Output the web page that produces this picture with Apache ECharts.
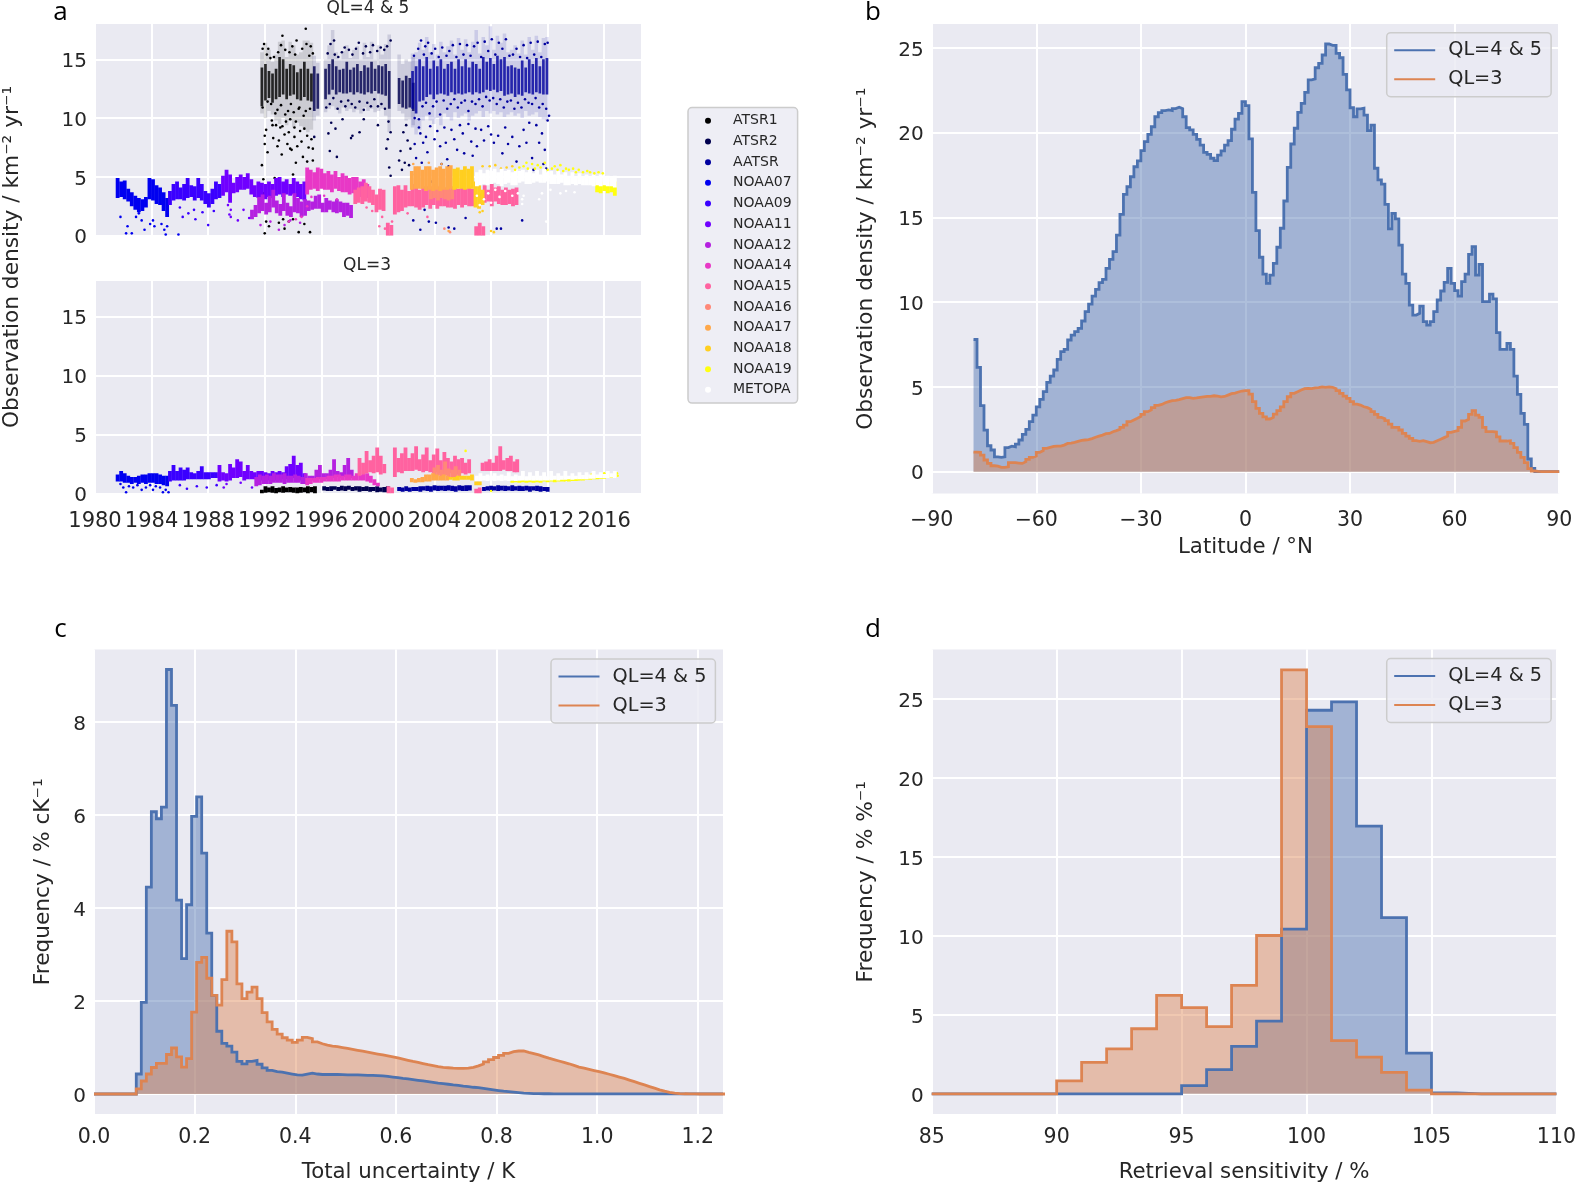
<!DOCTYPE html>
<html><head><meta charset="utf-8">
<style>html,body{margin:0;padding:0;background:#fff}#c{width:1579px;height:1184px}</style>
<script src="https://cdn.jsdelivr.net/npm/echarts@6/dist/echarts.min.js"></script>
</head><body><div id="c"></div>
<script>
const sensors=['ATSR1','ATSR2','AATSR','NOAA07','NOAA09','NOAA11','NOAA12','NOAA14','NOAA15','NOAA16','NOAA17','NOAA18','NOAA19','METOPA'];
const sensorColors=['#000000','#00004f','#00009f','#0000f0','#3a00ff','#7000ff','#b520e0','#e838c6','#ff62a0','#ff8878','#ffa84a','#ffcf20','#ffff10','#ffffff'];

// QL=4&5 clouds: [year, outerLow, coreLow, coreHigh, outerHigh]
const cloudATSR1=[[1991.8,10.4,11,14.3,15.6],[1992.05,10,11.5,14.6,16.4],[1992.3,10.6,11.7,14,15.8],[1992.55,10.3,11.3,13.8,14.8],[1992.8,9.8,11.6,14.2,15.4],[1993.05,9.5,11.8,15.2,16.5],[1993.3,10,12,15,16.6],[1993.55,9.4,11.6,14.2,15.2],[1993.8,9.8,11.9,14.6,16.5],[1994.05,9.2,12,14.5,16.2],[1994.3,9.6,11.6,13.9,15.4],[1994.55,9.3,11.5,14.2,15.6],[1994.8,9,11.8,14.8,16.6],[1995.05,8.8,11.5,14.2,16.6],[1995.3,9,11.4,13.8,16.4]];
const cloudATSR2=[[1995.5,9.8,10.6,14.4,15.3],[1995.75,10.2,10.8,13.8,14.7],[1996.3,10.5,11.6,14.2,15],[1996.55,10.8,12,14.6,16.2],[1996.8,11,12.4,15,17.5],[1997.05,10.7,12,14.4,15.6],[1997.3,10.4,12.2,14.1,15],[1997.55,10.9,12.1,14.2,15.7],[1997.8,10.6,12.1,14.8,16.2],[1998.05,10.8,12.2,14.1,15.1],[1998.3,10.5,12,14.3,15.8],[1998.55,10.7,12.2,14.6,16.1],[1998.8,10.4,12.1,14,15],[1999.05,10.9,12,14.5,16.4],[1999.3,10.6,12.2,14.3,15.2],[1999.55,10.8,12.1,14.8,16.5],[1999.8,10.5,12.3,14.2,15],[2000.05,10.6,12.1,14.5,16.2],[2000.3,10.8,12,14.4,15.4],[2000.55,10.2,11.9,14.6,16.3],[2000.8,8.8,10.8,14,17.1],[2001.5,10.6,11.2,13.4,15.4],[2001.75,10.4,10.9,13.2,14.6],[2002,9.8,10.8,13.6,15],[2002.25,9.9,10.9,13.4,14.8],[2002.5,9.4,10.6,13,15.2]];
const cloudAATSR=[[2002.45,9.2,10.8,14,15.5],[2002.7,8.6,10.4,14.4,15.6],[2002.95,9,11.4,15,16.4],[2003.2,9.8,11.5,14.4,15.8],[2003.45,10.2,11.8,15.2,16.9],[2003.7,9.8,12,14.2,15.6],[2003.95,9.5,11.6,14.9,16.3],[2004.2,10,12,14.4,15.4],[2004.45,9.4,12.1,15,16.5],[2004.7,10.4,12,14.2,15.6],[2004.95,10.1,11.9,14.6,16.1],[2005.2,9.8,12.2,14.8,16.6],[2005.45,10.5,12,14.2,15.4],[2005.7,10,12.1,15,16.8],[2005.95,10.2,12,14.4,15.8],[2006.2,10.4,12.1,15,16.7],[2006.45,9.8,12.2,14.3,15.6],[2006.7,10.2,12,14.8,16.5],[2006.95,10.4,12.2,14.6,17.5],[2007.2,10.6,12.1,14.2,15.5],[2007.45,10.1,12.2,15.2,16.9],[2007.7,10.6,12.4,14.8,16.2],[2007.95,10.4,12.3,15.1,17.8],[2008.2,10.6,12.4,14.6,15.8],[2008.45,10.3,12.2,15.3,17],[2008.7,10.5,12.3,15,16.4],[2008.95,10.1,11.9,15.2,17.2],[2009.2,10.3,12,14.4,15.6],[2009.45,10.5,12.1,14.5,15.8],[2009.7,10.2,11.8,14.3,16.2],[2009.95,10.4,12,14.2,15.5],[2010.2,10,11.9,14.9,16.6],[2010.45,10.6,12.2,14.3,15.4],[2010.7,10.2,12.1,15,16.9],[2010.95,10.3,12,14.6,15.8],[2011.2,10.5,12.2,15.1,17],[2011.45,10.1,12.1,14.4,15.6],[2011.7,9.9,12,15,16.8],[2011.95,9.8,12,15.1,16.9]];

// QL=4&5 bands: [year, low, high]
const topNOAA07=[[1981.6,3.2,4.9],[1981.85,3.3,4.6],[1982.1,3.1,4.7],[1982.35,2.9,4],[1982.6,2.5,3.7],[1982.85,2.2,3.4],[1983.1,2,3.2],[1983.35,2.1,3.1],[1983.6,2.4,3.3],[1983.85,3.1,4.9],[1984.1,3,4.8],[1984.35,2.7,4.3],[1984.6,2.6,4.1],[1984.85,2.1,3.7],[1985.1,1.6,3.2]];
const topNOAA09=[[1985.3,2.6,3.8],[1985.55,3,4.4],[1985.8,3.1,4.6],[1986.05,3.1,4.1],[1986.3,3,4.4],[1986.55,3.2,4.9],[1986.8,3.3,4.3],[1987.05,3,4.2],[1987.3,3.2,4.9],[1987.55,3,4.4],[1987.8,2.7,3.8],[1988.05,2.4,3.6],[1988.3,2.7,4],[1988.55,3.1,4.6],[1988.8,3.2,4.4]];
const topNOAA11=[[1989.05,3.4,5.1],[1989.3,3.7,5.6],[1989.55,2.8,5.2],[1989.8,3.6,4.5],[1990.05,3.7,5],[1990.3,3.9,5.2],[1990.55,3.9,5],[1990.8,4,5.3],[1991.05,3.5,4.8],[1991.3,3.3,4.3],[1991.55,3.2,4.6],[1991.8,3.2,4.5],[1992.05,3.1,4.4],[1992.3,3.3,4.6],[1992.55,3.2,4.4],[1992.8,3.4,4.9],[1993.05,3.5,5],[1993.3,3.3,4.6],[1993.55,3.5,4.8],[1993.8,3.4,4.4],[1994.05,3.5,4.9],[1994.3,3.3,4.6],[1994.55,3.1,4.4],[1994.8,3,4.6]];
const topNOAA12=[[1991.1,1.4,2.2],[1991.35,1.6,2.6],[1991.6,1.9,3.3],[1991.85,2.1,3.5],[1992.1,1.8,2.8],[1992.35,2,3.4],[1992.6,2.4,3.9],[1992.85,1.9,3],[1993.1,1.7,2.7],[1993.35,2.1,3.6],[1993.6,1.7,2.8],[1993.85,1.6,2.5],[1994.1,2,3.6],[1994.35,1.9,3.2],[1994.6,1.6,2.9],[1994.85,1.7,3.1],[1995.1,2.1,3],[1995.35,2.2,2.9],[1995.6,2.3,3.4],[1995.85,2.3,3.5],[1996.1,2,2.8],[1996.35,2,3.2],[1996.6,2.2,3],[1996.85,2,2.9],[1997.1,1.9,3.1],[1997.35,2,2.9],[1997.6,1.6,2.8],[1997.85,1.7,2.8],[1998.1,1.5,2.6]];
const topNOAA14=[[1995,3.5,5.8],[1995.25,3.9,5.6],[1995.5,4,5.4],[1995.75,3.8,5.8],[1996,4,5.7],[1996.25,3.9,5.3],[1996.5,3.9,5.5],[1996.75,3.7,5.2],[1997,4,5.5],[1997.25,3.8,5],[1997.5,3.7,5.3],[1997.75,3.7,5.1],[1998,3.5,4.9],[1998.25,3.6,5],[1998.5,3.8,5],[1998.75,3.3,4.6],[1999,3.4,4.8],[1999.25,3.2,4.4]];
const topNOAA15=[[1998.4,2.7,3.9],[1998.65,2.8,4.1],[1998.9,2.7,4.2],[1999.15,2.9,4.5],[1999.4,2.8,4.2],[1999.65,2.6,3.9],[1999.9,2,3.5],[2000.15,2.2,4],[2000.4,2.1,3.9],[2000.7,0,1.1],[2000.95,0,0.9],[2001.2,1.8,4.2],[2001.45,2,4.3],[2001.7,2.1,3.9],[2001.95,2.4,4.3],[2002.2,2.5,3.8],[2002.45,2.5,4.4],[2002.7,2.4,4.2],[2002.95,2.2,3.9],[2003.2,2.4,4.2],[2003.45,2.6,4.2],[2003.7,2.3,4],[2003.95,2.6,4.4],[2004.2,2.3,4],[2004.45,2.5,4.3],[2004.7,2.5,4.1],[2004.95,2.4,4.2],[2005.2,2.4,3.9],[2005.45,2.3,4.2],[2005.7,2.6,4],[2005.95,2.4,4.3],[2006.2,2.6,4],[2006.45,2.5,4.1],[2006.7,2.5,4],[2006.95,0,0.8],[2007.2,0,1.1],[2007.45,0,0.8],[2007.3,2.6,3.6],[2007.55,2.8,4.3],[2007.8,2.9,3.9],[2008.05,2.5,4.4],[2008.3,2.9,4.1],[2008.55,2.7,4.2],[2008.8,2.6,3.9],[2009.05,2.6,4.1],[2009.3,2.7,3.9],[2009.55,2.5,4],[2009.8,2.6,4.1]];
const topNOAA16=[[2003.75,3.1,4.2],[2004,3.2,4.4],[2004.25,3,4.2],[2004.5,3.2,4.5],[2004.75,3.1,4.1],[2005,3,4.3],[2005.25,3.1,4.2]];
const topNOAA17=[[2002.4,3.9,5.5],[2002.65,4,5.9],[2002.9,4,5.9],[2003.15,4,5.6],[2003.4,3.8,5.9],[2003.65,3.9,5.9],[2003.9,3.8,5.6],[2004.15,3.9,5.8],[2004.4,3.8,5.9],[2004.65,3.9,5.7],[2004.9,3.9,5.9],[2005.15,4,6]];
const topNOAA18=[[2005.4,3.9,5.7],[2005.65,4,5.8],[2005.9,4,5.6],[2006.15,3.9,5.9],[2006.4,4,5.7],[2006.65,4,5.9],[2006.9,2.4,4.6],[2007.15,2.3,4.3],[2007.4,2.6,3.9]];
const topNOAA19=[[2015.5,3.7,4.5],[2015.75,3.6,4.6],[2016,3.8,4.5],[2016.25,3.6,4.6],[2016.5,3.7,4.5],[2016.75,3.4,4.6]];
const topMETOPA=[[2007,4.2,5.4],[2007.25,4.3,5.6],[2007.5,4.4,5.3],[2007.75,4.3,5.6],[2008,4.4,5.5],[2008.25,4.5,5.7],[2008.5,4.4,5.4],[2008.75,4.2,5.7],[2009,4.4,5.5],[2009.25,4.5,5.6],[2009.5,4.3,5.4],[2009.75,4.3,5.7],[2010,4.5,5.5],[2010.25,4.6,5.6],[2010.5,4.4,5.4],[2010.75,4.4,5.7],[2011,4.5,5.3],[2011.25,4.6,5.6],[2011.5,4.5,5.2],[2011.75,4.5,5.7],[2012,4.6,5.4],[2012.25,4.4,5.5],[2012.5,4.4,5.2],[2012.75,4.4,5.5],[2013,4.5,5.2],[2013.25,4.3,5.4],[2013.5,4.3,5.1],[2013.75,4.4,5.4],[2014,4.3,5],[2014.25,4.4,5.3],[2014.5,4.3,5],[2014.75,4.3,5.2],[2015,4.3,5],[2015.25,4.2,5.2],[2015.5,4.3,4.9],[2015.75,4.2,5.2],[2016,4.3,4.9],[2016.25,4.2,5.1],[2016.5,4.2,4.9],[2016.75,4.1,5.1]];

// QL=4&5 scattered single observations: [year, value]
const dotsATSR1=[[1991.8,6],[1991.9,4.8],[1991.9,3.6],[1992,8.5],[1992,7.8],[1992,0.2],[1992.1,9],[1992.1,1.2],[1992.2,7.1],[1992.3,0.8],[1992.4,3.3],[1992.5,9.8],[1992.6,8.3],[1992.7,4.9],[1992.8,9.4],[1992.9,7.6],[1993,8.1],[1993,1.1],[1993.1,9.2],[1993.2,6.9],[1993.3,1.4],[1993.4,8.6],[1993.4,0.6],[1993.5,9.7],[1993.6,7.8],[1993.7,1.2],[1993.7,8.8],[1993.8,9.9],[1993.8,7.4],[1993.9,7.3],[1994,1.4],[1994,5.2],[1994.1,8.4],[1994.2,6.2],[1994.2,9.7],[1994.3,7.6],[1994.4,0.3],[1994.5,8.9],[1994.6,8],[1994.7,6.7],[1994.8,9.1],[1994.8,1],[1995,6.3],[1995,8.5],[1995.1,7.5],[1995.1,5.5],[1995.2,0.3],[1995.3,8.2],[1995.4,7.4],[1995.4,6.4],
[1991.85,15.9],[1991.95,16.3],[1992.15,15.4],[1992.25,15.9],[1992.4,15.1],[1992.45,11.2],[1992.65,15.2],[1992.75,10.4],[1992.95,15.6],[1993.15,16.2],[1993.25,17],[1993.45,15.8],[1993.65,10.6],[1993.75,15.6],[1993.95,16.1],[1994.15,15.4],[1994.25,16.6],[1994.4,10.8],[1994.65,15.9],[1994.75,10.2],[1994.95,16.3],[1995.15,15.3],[1995.25,16.1],[1995.4,15.5],[1991.85,10.9],[1992.2,11.4],[1992.9,10.7],[1993.15,11.1],[1993.45,10.3],[1993.85,11.2],[1994.05,10.5],[1994.45,10.9],[1994.9,10.6],[1995.2,10.8],[1994.9,17.6],[1993.25,9.3],[1992.55,9.4],[1994.1,9.2]];
const dotsATSR2=[[1995.5,8.4],[1996.5,8.7],[1996.6,7.2],[1996.7,9.6],[1997,9.1],[1997.1,6.7],[1997.5,9.9],[1998.1,8.3],[1998.2,8.5],[1998.7,8.8],[1999,9.9],[2000,9.4],[2000.6,7.4],[2000.7,8.2],[2000.8,5.8],[2000.9,8.8],[2000.9,5.1],[2001.5,6.4],[2001.6,7.2],[2001.7,5.6],[2001.8,8.8],[2001.9,6.2],[2002,9.4],[2002.1,8.1],[2002.2,6],[2002.3,7.4],[2002.4,5.2],
[1996.45,15.5],[1996.65,16.3],[1996.9,16.6],[1996.95,15.4],[1997.2,15.2],[1997.45,15.6],[1997.65,16],[1997.95,15.8],[1998.2,15.4],[1998.45,15.9],[1998.65,16.4],[1998.95,15.5],[1999.15,16.1],[1999.45,15.6],[1999.65,16.2],[1999.95,15.7],[2000.2,16],[2000.45,15.8],[2000.65,16.1],[2000.9,16.6],[1996.35,10.9],[1996.6,11.2],[1996.85,11.7],[1997.15,10.8],[1997.4,11.4],[1997.7,11],[1997.9,11.5],[1998.15,11.2],[1998.4,10.9],[1998.7,11.4],[1999,10.7],[1999.25,11.3],[1999.5,11],[1999.75,11.6],[2000,11],[2000.25,11.2],[2000.5,10.8],[2000.75,9.7]];
const dotsAATSR=[[2002.5,1.3],[2002.6,7.8],[2002.7,6.6],[2002.8,3.1],[2002.9,9.2],[2003,8.7],[2003,0.5],[2003.1,6.2],[2003.2,7.9],[2003.3,2.2],[2003.4,8.4],[2003.5,7.1],[2003.6,1.2],[2003.7,9.3],[2003.8,4.6],[2004,8.2],[2004.1,1.1],[2004.2,8.9],[2004.4,7.6],[2004.5,6.1],[2004.7,9.2],[2004.8,7.9],[2004.9,6.5],[2005,5.9],[2005,0.7],[2005.2,9],[2005.4,8.2],[2005.4,0.6],[2005.6,7.3],[2005.8,9.4],[2006,8.7],[2006.1,7],[2006.2,1.5],[2006.4,9.5],[2006.6,8],[2006.7,6.8],[2006.9,9.1],[2007,7.6],[2007.3,9],[2007.5,8.1],[2007.8,9.3],[2008,8.6],[2008.2,7.9],[2008.4,0.6],[2008.5,8.5],[2008.7,0.6],[2008.8,7],[2009,9.2],[2009.2,7.8],[2009.5,8.4],[2009.8,6.3],[2010,7.6],[2010.2,1.3],[2010.3,9],[2010.5,7.9],[2010.7,9.6],[2010.9,6.6],[2011,5.6],[2011.2,9.4],[2011.4,7.9],[2011.6,8.7],[2011.7,6.1],[2011.8,7.3],[2011.9,5.7],[2012,9.8],[2012.1,10.2],
[2002.55,15.3],[2002.85,15.9],[2003.05,16.6],[2003.25,15.4],[2003.35,16.1],[2003.55,16.4],[2003.8,15.5],[2004.05,15.9],[2004.3,15.2],[2004.55,16],[2004.85,15.3],[2005.05,15.7],[2005.3,16.2],[2005.55,15.2],[2005.8,16.3],[2006.05,15.4],[2006.3,16.2],[2006.55,15.3],[2006.8,16.1],[2007.05,16.4],[2007.3,15.2],[2007.55,16.5],[2007.8,15.7],[2008.05,16.7],[2008.3,15.4],[2008.55,16.4],[2008.8,15.9],[2009.05,16.7],[2009.3,15.3],[2009.55,15.4],[2009.8,15.9],[2010.05,15.2],[2010.3,16.2],[2010.55,15.1],[2010.8,16.4],[2011.05,15.4],[2011.3,16.5],[2011.55,15.2],[2011.8,16.3],[2012,16.4],[2002.6,10],[2002.9,9.9],[2003.15,11],[2003.4,11.3],[2003.65,10.4],[2003.9,11],[2004.15,11.4],[2004.4,10.3],[2004.65,11.5],[2004.9,10.8],[2005.15,11.2],[2005.4,11.6],[2005.65,10.9],[2005.9,11.3],[2006.15,11.5],[2006.4,10.6],[2006.65,11.4],[2006.9,11.2],[2007.15,11.6],[2007.4,11],[2007.65,11.8],[2007.9,11.5],[2008.15,11.7],[2008.4,11.2],[2008.65,11.6],[2008.9,10.9],[2009.15,11.4],[2009.4,11.5],[2009.65,10.8],[2009.9,11.3],[2010.15,10.9],[2010.4,11.6],[2010.65,11.3],[2010.9,11.2],[2011.15,11.7],[2011.4,10.9],[2011.65,11.2],[2011.9,10.8]];
const dotsNOAA07=[[1981.8,1.6],[1982.2,0.2],[1982.3,0.8],[1982.6,0.2],[1982.9,1.6],[1983.1,1.9],[1983.3,1.3],[1983.5,0.5],[1983.9,1],[1984.1,1.3],[1984.2,0.8],[1984.7,1],[1984.9,0.5],[1985,0.1],[1985.1,0.8],[1985.9,0.1]];
const dotsNOAA09=[[1986,2.4],[1986.2,1.6],[1986.6,1.9],[1987,2.2],[1987.1,1.4],[1987.6,2],[1988,0.9],[1988.4,2.1]];
const dotsNOAA11=[[1989.4,2.6],[1989.5,1.8],[1989.6,2.2],[1989.6,1.6],[1990.1,1.3],[1990.5,2.2],[1990.9,1.5]];
const dotsNOAA12=[[1991.7,0.9],[1992.4,1.2],[1993,0.5],[1993.4,0.9],[1993.8,1.3],[1994.5,1.1]];
const dotsNOAA14=[[1993.7,1.2],[1994.2,1.4],[1994.6,1.6],[1995,2.5],[1995.3,3.3],[1996.2,3.4],[1997.1,3.1]];
const dotsNOAA15=[[1999.2,2.4],[1999.6,2.1],[2000.1,0.8],[2000.3,1.6],[2000.5,0.6],[2001,1.2],[2002.1,1.9],[2003.5,1.6]];
const dotsNOAA16=[[2004.7,0.6],[2005.1,0.3]];
const dotsNOAA17=[[2005,0.4],[2002.5,6.1],[2003.6,6.2],[2004.5,6.1]];
const dotsNOAA18=[[2007.4,5.9],[2007.9,5.9],[2008.3,6],[2008.7,5.7],[2009.1,5.8],[2009.5,5.9],[2007.2,2],[2007.4,2.1],[2008,0.4],[2008.2,0.3]];
const dotsNOAA19=[[2009.7,5.6],[2010,5.8],[2010.3,5.9],[2010.5,6.2],[2010.6,5.7],[2010.9,6.1],[2011.1,5.7],[2011.3,6],[2011.5,5.8],[2011.8,6.2],[2012,5.6],[2012.3,5.7],[2012.5,5.9],[2012.7,5.6],[2012.9,6],[2013.1,5.5],[2013.3,5.7],[2013.5,5.6],[2013.8,5.7],[2014,5.4],[2014.2,5.6],[2014.5,5.4],[2014.8,5.5],[2015,5.4],[2015.3,5.3],[2015.6,5.4],[2015.9,5.3]];
const dotsMETOPA=[[2007,3.4],[2007.2,2.6],[2007.5,3.1],[2007.8,3.6],[2008,2.8],[2008.3,3.9],[2008.6,3.3],[2009,3.8],[2009.5,3.4],[2009.9,3.6],[2010.2,2.7],[2010.2,3.1],[2010.3,3.4],[2011.4,3.1],[2011.6,3.6],[2011.9,1.2],[2012.2,3.9],[2012.9,3.6],[2013.3,3.8],[2013.9,3.7]];

// QL=3 bands: [year, low, high]
const lowATSR1=[[1991.8,0,0.3],[1992.05,0.05,0.6],[1992.3,0.1,0.5],[1992.55,0.05,0.6],[1992.8,0,0.45],[1993.05,0.1,0.5],[1993.3,0.05,0.6],[1993.55,0.1,0.5],[1993.8,0.1,0.55],[1994.05,0.05,0.5],[1994.3,0,0.5],[1994.55,0.05,0.55],[1994.8,0.1,0.5],[1995.05,0,0.6],[1995.3,0.1,0.55],[1995.55,0,0.6]];
const lowATSR2=[[1996.2,0.25,0.6],[1996.45,0.2,0.55],[1996.7,0.2,0.6],[1996.95,0.3,0.6],[1997.2,0.2,0.55],[1997.45,0.25,0.65],[1997.7,0.2,0.6],[1997.95,0.3,0.65],[1998.2,0.2,0.55],[1998.45,0.25,0.6],[1998.7,0.15,0.6],[1998.95,0.2,0.55],[1999.2,0.2,0.6],[1999.45,0.15,0.55],[1999.7,0.2,0.55],[1999.95,0.1,0.6],[2000.2,0.15,0.5],[2000.45,0.1,0.55],[2000.7,0.1,0.6]];
const lowAATSR=[[2001.5,0.2,0.55],[2001.75,0.15,0.5],[2002,0.2,0.6],[2002.25,0.15,0.5],[2002.5,0.2,0.55],[2002.75,0.2,0.55],[2003,0.15,0.6],[2003.25,0.25,0.6],[2003.5,0.2,0.65],[2003.75,0.15,0.6],[2004,0.25,0.7],[2004.25,0.2,0.65],[2004.5,0.25,0.65],[2004.75,0.2,0.65],[2005,0.25,0.7],[2005.25,0.2,0.65],[2005.5,0.15,0.6],[2005.75,0.25,0.7],[2006,0.2,0.65],[2006.25,0.2,0.7],[2006.5,0.25,0.7],[2007.5,0.2,0.55],[2007.75,0.25,0.6],[2008,0.2,0.65],[2008.25,0.25,0.6],[2008.5,0.2,0.7],[2008.75,0.25,0.65],[2009,0.2,0.65],[2009.25,0.25,0.6],[2009.5,0.2,0.7],[2009.75,0.25,0.6],[2010,0.2,0.65],[2010.25,0.2,0.6],[2010.5,0.25,0.65],[2010.75,0.15,0.6],[2011,0.25,0.6],[2011.25,0.2,0.65],[2011.5,0.15,0.6],[2011.75,0.2,0.55],[2012,0.15,0.55]];
const lowNOAA07=[[1981.6,1,1.6],[1981.85,1,1.9],[1982.1,0.9,1.7],[1982.35,0.9,1.5],[1982.6,0.8,1.4],[1982.85,0.9,1.4],[1983.1,0.8,1.5],[1983.35,0.9,1.6],[1983.6,0.8,1.6],[1983.85,0.9,1.7],[1984.1,0.9,1.7],[1984.35,0.8,1.7],[1984.6,0.8,1.6],[1984.85,0.7,1.5],[1985.1,0.6,1.5]];
const lowNOAA09=[[1985.3,1,1.9],[1985.55,1.1,2.4],[1985.8,1.1,1.9],[1986.05,1.1,2.2],[1986.3,1.1,2],[1986.55,1.2,2.2],[1986.8,1.2,1.8],[1987.05,1.2,1.7],[1987.3,1.2,1.9],[1987.55,1.2,2.3],[1987.8,1.2,1.8],[1988.05,1.2,1.8],[1988.3,1.3,1.8],[1988.55,1.3,1.8]];
const lowNOAA11=[[1988.8,1,2.4],[1989.05,1.1,1.8],[1989.3,1,1.7],[1989.55,1.1,2.5],[1989.8,1.3,2.2],[1990.05,1.3,2.9],[1990.3,1.4,2.7],[1990.55,1.1,1.9],[1990.8,1.2,2.4],[1991.05,1.2,1.9],[1991.3,1.2,1.8],[1991.55,1.2,1.9],[1991.8,1.1,1.9],[1992.05,1.1,1.8],[1992.3,1.1,1.7],[1992.55,1,1.9],[1992.8,1.1,1.8],[1993.05,1.1,1.9],[1993.3,1.2,1.8],[1993.55,1.2,2.3],[1993.8,1.2,2.5],[1994.05,1.3,3.2],[1994.3,1.2,2.4],[1994.55,1.1,2.6],[1994.8,0.9,1.7]];
const lowNOAA12=[[1991.4,0.6,1.4],[1991.65,0.7,1.6],[1991.9,0.8,1.5],[1992.15,0.8,1.6],[1992.4,0.8,1.5],[1992.65,0.9,1.7],[1992.9,0.9,1.6],[1993.15,0.9,1.6],[1993.4,0.8,1.7],[1993.65,0.9,1.5],[1993.9,0.9,1.5],[1994.15,0.9,1.6],[1994.4,0.9,1.5],[1994.65,0.8,1.4],[1994.9,0.8,1.7],[1995.15,0.9,1.5],[1995.4,1.1,1.5],[1995.65,1.1,2],[1995.9,1.2,2.4],[1996.15,1.2,1.7],[1996.4,1.2,1.7],[1996.65,1.3,2],[1996.9,1.3,2.9],[1997.15,1.4,1.9],[1997.4,1.3,1.8],[1997.65,1.4,2.4],[1997.9,1.3,3],[1998.15,1.3,2]];
const lowNOAA14=[[1995,0.7,1.3],[1995.25,0.8,1.3],[1995.5,0.9,1.3],[1995.75,0.9,1.4],[1996,0.9,1.4],[1996.25,1,1.4],[1996.5,1,1.5],[1996.75,1,1.5],[1997,1,1.6],[1997.25,1,1.6],[1997.5,1.1,1.5],[1997.75,1.1,1.6],[1998,1.1,1.6],[1998.25,1.1,1.5],[1998.5,1.1,1.7],[1998.75,1.1,1.6],[1999,1.1,1.7],[1999.25,1,1.7],[1999.5,0.9,1.5],[1999.75,0.7,1.2],[2000,0.6,0.9]];
const lowNOAA15=[[1998.7,1.5,3],[1998.95,1.6,2.6],[1999.2,1.7,3.6],[1999.45,1.8,2.8],[1999.7,1.7,3.2],[1999.95,1.8,3.9],[2000.2,1.6,3.2],[2000.45,1.7,2.5],[2000.75,0,0.6],[2001,0,0.5],[2001.2,1.4,3.9],[2001.45,1.8,3],[2001.7,1.7,3.4],[2001.95,1.9,3.9],[2002.2,1.9,3],[2002.45,1.9,3.4],[2002.7,2,4],[2002.95,1.9,2.9],[2003.2,1.8,3.3],[2003.45,1.9,3.9],[2003.7,1.8,2.8],[2003.95,1.7,3.3],[2004.2,1.8,3.8],[2004.45,1.7,2.8],[2004.7,1.6,3.5],[2004.95,1.7,3],[2005.2,1.7,2.7],[2005.45,1.8,3.2],[2005.7,1.6,2.9],[2005.95,1.7,3],[2006.2,1.6,2.6],[2006.45,1.7,2.9],[2006.95,0,0.4],[2007.2,0,0.5],[2007.4,1.9,2.6],[2007.65,1.9,2.7],[2007.9,1.9,2.9],[2008.15,1.9,2.6],[2008.4,1.9,3.2],[2008.65,1.9,4],[2008.9,2,2.8],[2009.15,1.9,3],[2009.4,1.9,3.2],[2009.65,1.8,2.7],[2009.85,1.8,2.9]];
const lowNOAA16=[[2004,1.4,2.2],[2004.25,1.5,2.4],[2004.5,1.4,2],[2004.75,1.5,2.7],[2005,1.4,2.1],[2005.25,1.3,2],[2005.5,1.4,2.3],[2005.75,1.4,2]];
const lowNOAA17=[[2002.4,0.95,1.3],[2002.65,0.9,1.2],[2002.9,0.95,1.3],[2003.15,0.95,1.4],[2003.4,1,1.6],[2003.65,1,1.6],[2003.9,1.1,1.7],[2004.15,1.1,1.6],[2004.4,1.1,1.5],[2004.65,1.1,1.6],[2004.9,1.1,1.5]];
const lowNOAA18=[[2005.15,1.15,1.4],[2005.4,1.1,1.4],[2005.65,1.1,1.5],[2005.9,1.15,1.5],[2006.15,1.15,1.5],[2006.4,1.15,1.5],[2006.65,1.1,1.6],[2006.95,0.7,1],[2007.2,0.7,1]];
const lowNOAA19=[[2009.5,0.9,1.1],[2009.75,0.95,1.1],[2010,0.9,1.1],[2010.25,0.95,1.2],[2010.5,0.9,1.1],[2010.75,0.95,1.2],[2011,0.9,1.1],[2011.25,0.95,1.2],[2011.5,0.9,1.1],[2011.75,1,1.2],[2012,0.95,1.2],[2012.25,1,1.2],[2012.5,0.95,1.2],[2012.75,1,1.25],[2013,1,1.2],[2013.25,1.05,1.3],[2013.5,1,1.25],[2013.75,1.05,1.3],[2014,1.05,1.3],[2014.25,1.1,1.35],[2014.5,1.1,1.35],[2014.75,1.15,1.4],[2015,1.15,1.4],[2015.25,1.2,1.45],[2015.5,1.2,1.5],[2015.75,1.25,1.5],[2016,1.25,1.55],[2016.25,1.3,1.6],[2016.5,1.3,1.6],[2016.75,1.3,1.7]];
const lowMETOPA=[[2007,1.05,1.5],[2007.25,1.05,1.7],[2007.5,1.1,1.5],[2007.75,1.05,1.6],[2008,1.1,1.5],[2008.25,1.05,1.7],[2008.5,1.1,1.5],[2008.75,1.05,1.6],[2009,1.1,1.5],[2009.25,1.05,1.8],[2009.5,1.1,1.45],[2009.75,1.05,1.6],[2010,1.1,1.5],[2010.25,1.1,1.9],[2010.5,1.1,1.45],[2010.75,1.1,1.8],[2011,1.1,1.5],[2011.25,1.1,1.9],[2011.5,1.1,1.5],[2011.75,1.1,1.8],[2012,1.1,1.45],[2012.25,1.1,1.9],[2012.5,1.15,1.5],[2012.75,1.1,1.7],[2013,1.15,1.5],[2013.25,1.15,1.9],[2013.5,1.2,1.5],[2013.75,1.15,1.7],[2014,1.2,1.5],[2014.25,1.2,1.8],[2014.5,1.2,1.55],[2014.75,1.2,1.8],[2015,1.25,1.6],[2015.25,1.25,1.9],[2015.5,1.3,1.6],[2015.75,1.3,1.8],[2016,1.3,1.65],[2016.25,1.3,1.9],[2016.5,1.35,1.7],[2016.75,1.3,1.9]];
const lowDotsNOAA07=[[1981.8,0.8],[1982,0.5],[1982.2,0.1],[1982.4,0.6],[1982.7,0.5],[1983,0.7],[1983.3,0.3],[1983.6,0.5],[1983.9,0.7],[1984.1,0.3],[1984.3,0.6],[1984.6,0.5],[1984.8,0.1],[1985,0.3],[1985.2,0.1]];
const lowDotsNOAA09=[[1986,0.7],[1986.5,0.4],[1987.2,0.6],[1987.9,0.5],[1988.6,0.7]];
const lowDotsNOAA11=[[1989.1,0.5],[1989.3,0.8],[1990.3,0.9],[1991.1,0.5]];
const lowDotsNOAA19=[[2015.1,1.6],[2016,1.7],[2016.1,1.6],[2016.9,1.7],[2016.95,1.5],[2012.4,1.3],[2013.2,1.1],[2014.2,1.2],[2008,0.2],[2006.2,3.6]];

// Panel b: observation density by latitude, 1° bins starting at -78
const latStart=-78;
const densityQL45=[7.8,6.15,3.9,2.45,1.53,1.28,0.88,0.85,0.88,1.42,1.51,1.47,1.63,1.87,2.2,2.5,2.95,3.34,3.83,4.27,4.72,5.27,5.64,6,6.63,7.08,7.22,7.77,8.06,8.26,8.46,8.89,9.44,9.89,10.36,10.76,11.15,11.35,12,12.53,12.98,13.96,15.18,16.36,16.81,17.4,17.99,18.33,18.94,19.47,19.9,20.35,20.94,21.18,21.3,21.34,21.3,21.42,21.5,21.42,20.94,20.3,20.16,19.9,19.6,19.27,18.84,18.72,18.49,18.35,18.68,18.92,19.27,19.53,20.2,20.8,21.14,21.83,21.59,19.63,16.48,14.22,12.65,11.66,11.11,11.6,12.29,13.24,14.36,15.97,17.95,19.33,20.26,21.2,21.73,22.38,23.11,23.17,23.83,24.09,24.58,25.23,25.15,25.15,24.68,24.42,23.44,22.52,21.47,20.94,21.4,21.44,21.04,20.12,20.45,17.9,17.21,16.97,15.77,14.32,15.24,14.91,13.37,11.66,11.11,9.83,9.24,9.34,9.77,8.85,8.65,8.85,9.44,10.13,10.66,11.17,12,11.11,10.68,10.36,11.21,11.66,12.82,13.27,11.6,12.23,10.03,10.03,10.48,10.19,8.2,7.22,7.22,7.57,7.22,5.64,4.56,3.44,2.79,0.75,0.2,0,0,0,0,0,0,0];
const densityQL3=[1.16,1.14,0.98,0.69,0.49,0.35,0.33,0.26,0.26,0.29,0.53,0.53,0.51,0.49,0.59,0.73,0.85,0.92,1.14,1.24,1.38,1.44,1.49,1.51,1.51,1.57,1.67,1.69,1.73,1.79,1.85,1.87,1.89,1.95,2.03,2.1,2.16,2.24,2.26,2.36,2.42,2.5,2.62,2.75,2.95,3.05,3.15,3.26,3.38,3.54,3.64,3.78,3.91,3.97,4.07,4.13,4.19,4.21,4.25,4.31,4.37,4.37,4.33,4.35,4.39,4.42,4.44,4.44,4.48,4.46,4.42,4.44,4.52,4.6,4.64,4.7,4.76,4.78,4.78,4.58,4.13,3.74,3.44,3.24,3.11,3.2,3.4,3.6,3.83,4.13,4.42,4.62,4.72,4.82,4.9,4.92,4.9,4.94,4.96,5,4.98,5,4.98,4.9,4.78,4.62,4.46,4.33,4.13,3.99,3.93,3.83,3.78,3.68,3.54,3.38,3.2,3.13,3.01,2.81,2.62,2.62,2.46,2.26,2.1,1.97,1.83,1.79,1.83,1.77,1.71,1.73,1.83,1.91,2.01,2.1,2.32,2.38,2.42,2.62,2.99,3.09,3.38,3.6,3.34,3.2,2.62,2.36,2.36,2.34,2.06,1.81,1.81,1.83,1.67,1.42,1.14,0.85,0.53,0.18,0.04,0.02,0.01,0.01,0,0,0,0];

// Panel c: total uncertainty, 0.01 K bins starting at 0.084
const uncStart=0.084;
const uncQL45=[0.43,1.97,4.45,6.07,5.92,6.17,9.13,8.36,4.17,2.91,4.07,5.97,6.39,5.18,3.46,2.12,1.35,1.09,1.03,0.9,0.7,0.65,0.7,0.72,0.64,0.56,0.51,0.48,0.47,0.45,0.43,0.41,0.405,0.43,0.45,0.43,0.42,0.42,0.42,0.42,0.415,0.41,0.41,0.41,0.405,0.4,0.4,0.395,0.39,0.38,0.365,0.35,0.335,0.325,0.31,0.295,0.28,0.265,0.25,0.235,0.225,0.21,0.195,0.185,0.17,0.16,0.145,0.135,0.12,0.105,0.09,0.075,0.06,0.05,0.04,0.03,0.02,0.015,0.01,0.008,0.006,0.005,0.004,0.004,0.003,0.003,0.002,0.002];
const uncQL3=[0.11,0.28,0.43,0.57,0.66,0.66,0.85,0.99,0.8,0.58,0.76,1.76,2.83,2.94,2.49,2.12,1.91,2.46,3.5,3.27,2.37,2.05,2.19,2.3,2.05,1.75,1.55,1.39,1.29,1.21,1.16,1.11,1.16,1.22,1.19,1.12,1.08,1.05,1.03,1.02,1,0.98,0.96,0.94,0.92,0.9,0.88,0.86,0.84,0.82,0.8,0.775,0.75,0.725,0.7,0.68,0.655,0.63,0.61,0.59,0.575,0.565,0.555,0.55,0.55,0.555,0.575,0.605,0.645,0.69,0.74,0.785,0.83,0.875,0.91,0.925,0.925,0.895,0.87,0.84,0.805,0.77,0.74,0.71,0.68,0.65,0.615,0.58,0.555,0.53,0.505,0.48,0.455,0.425,0.395,0.365,0.335,0.3,0.265,0.23,0.195,0.16,0.125,0.09,0.06,0.035,0.02,0.01,0.005,0.003,0.001,0,0,0,0,0,0];

// Panel d: retrieval sensitivity, 1 % bins starting at 85
const sensStart=85;
const sensQL45=[0,0,0,0,0,0,0,0,0,0,0.52,1.53,3,4.6,10.43,24.3,24.83,16.96,11.16,2.58,0.06,0,0,0,0];
const sensQL3=[0,0,0,0,0,0.82,1.99,2.85,4.12,6.24,5.46,4.25,6.87,10.03,26.86,23.26,3.37,2.32,1.36,0.23,0,0,0,0,0];

const topClouds={ATSR1:cloudATSR1,ATSR2:cloudATSR2,AATSR:cloudAATSR};
const topBands={NOAA07:topNOAA07,NOAA09:topNOAA09,NOAA11:topNOAA11,NOAA12:topNOAA12,NOAA14:topNOAA14,NOAA15:topNOAA15,NOAA16:topNOAA16,NOAA17:topNOAA17,NOAA18:topNOAA18,NOAA19:topNOAA19,METOPA:topMETOPA};
const topDots={ATSR1:dotsATSR1,ATSR2:dotsATSR2,AATSR:dotsAATSR,NOAA07:dotsNOAA07,NOAA09:dotsNOAA09,NOAA11:dotsNOAA11,NOAA12:dotsNOAA12,NOAA14:dotsNOAA14,NOAA15:dotsNOAA15,NOAA16:dotsNOAA16,NOAA17:dotsNOAA17,NOAA18:dotsNOAA18,NOAA19:dotsNOAA19,METOPA:dotsMETOPA};
const lowBands={ATSR1:lowATSR1,ATSR2:lowATSR2,AATSR:lowAATSR,NOAA07:lowNOAA07,NOAA09:lowNOAA09,NOAA11:lowNOAA11,NOAA12:lowNOAA12,NOAA14:lowNOAA14,NOAA15:lowNOAA15,NOAA16:lowNOAA16,NOAA17:lowNOAA17,NOAA18:lowNOAA18,NOAA19:lowNOAA19,METOPA:lowMETOPA};
const lowDots={NOAA07:lowDotsNOAA07,NOAA09:lowDotsNOAA09,NOAA11:lowDotsNOAA11,NOAA19:lowDotsNOAA19};

const FONT='DejaVu Sans', INK='#262626', BG='#eaeaf2', BLUE='#4c72b0', ORANGE='#dd8452';
const hist=(start,w,vals,pad)=>{
  const pts=vals.map((v,i)=>[start+i*w,v]);
  pts.push([start+vals.length*w,vals[vals.length-1]]);
  if(pad!==undefined) pts.unshift([pad,0]);
  return pts;
};
const axisBase=(ticks,fs)=>({
  type:'value',
  axisLine:{show:false,onZero:false},
  axisTick:{show:false,customValues:ticks},
  axisLabel:{show:true,customValues:ticks,color:INK,fontFamily:FONT,fontSize:fs||20,
    formatter:v=>String(v).replace('-','\u2212')},
  splitLine:{show:true,lineStyle:{color:'#fff',width:2}}
});
const years=[1980,1984,1988,1992,1996,2000,2004,2008,2012,2016];
const grids=[
 {left:95,top:24,width:546,height:211.7},
 {left:95,top:281,width:546,height:212.4},
 {left:931.7,top:24,width:627.5,height:469.4},
 {left:94,top:649.5,width:629,height:468.5},
 {left:931.7,top:649.5,width:627.5,height:468.5}
].map(g=>({...g,backgroundColor:BG,show:true,borderWidth:0}));

const fmtDec=v=>Number(v).toFixed(1);
const nameFont={color:INK,fontFamily:FONT,fontSize:21.3};
const xAxis=[
 {...axisBase(years),gridIndex:0,min:1980,max:2018.6,axisLabel:{show:false}},
 {...axisBase(years,21),gridIndex:1,min:1980,max:2018.6,axisLabel:{...axisBase(years,21).axisLabel,margin:18,hideOverlap:false}},
 {...axisBase([-90,-60,-30,0,30,60,90]),gridIndex:2,min:-90,max:90,name:'Latitude / °N',nameLocation:'middle',nameGap:44,nameTextStyle:nameFont,axisLabel:{...axisBase([-90,-60,-30,0,30,60,90],20.5).axisLabel,margin:17}},
 {...axisBase([0,0.2,0.4,0.6,0.8,1,1.2]),gridIndex:3,min:0,max:1.25,name:'Total uncertainty / K',nameLocation:'middle',nameGap:48,nameTextStyle:nameFont,axisLabel:{...axisBase([0,0.2,0.4,0.6,0.8,1,1.2],20.5).axisLabel,margin:13,formatter:fmtDec}},
 {...axisBase([85,90,95,100,105,110]),gridIndex:4,min:85,max:110,name:'Retrieval sensitivity / %',nameLocation:'middle',nameGap:48,nameTextStyle:nameFont,axisLabel:{...axisBase([85,90,95,100,105,110],20.5).axisLabel,margin:13}}
];
const yName=t=>({name:t,nameLocation:'middle',nameRotate:90,nameTextStyle:{color:INK,fontFamily:FONT,fontSize:21.7}});
const yAxis=[
 {...axisBase([0,5,10,15]),gridIndex:0,min:0,max:18},
 {...axisBase([0,5,10,15]),gridIndex:1,min:0,max:18},
 {...axisBase([0,5,10,15,20,25]),gridIndex:2,min:-1.28,max:26.41,...yName('Observation density / km⁻² yr⁻¹'),nameGap:54},
 {...axisBase([0,2,4,6,8]),gridIndex:3,min:-0.43,max:9.56,...yName('Frequency / % cK⁻¹'),nameGap:40},
 {...axisBase([0,5,10,15,20,25]),gridIndex:4,min:-1.28,max:28.15,...yName('Frequency / % %⁻¹'),nameGap:54}
];
yAxis.forEach(a=>{
  a.axisLabel.formatter=v=>'{t|'+v+'}';
  a.axisLabel.rich={t:{color:INK,fontFamily:FONT,fontSize:20,lineHeight:25,verticalAlign:'bottom'}};
});

const BAND_W=0.27, CLOUD_W=0.25, CORE_W=0.19;
const bandRender=(color)=>(params,api)=>{
  const a=api.coord([api.value(0)-BAND_W/2,api.value(2)]), b=api.coord([api.value(0)+BAND_W/2,api.value(1)]);
  return {type:'rect',shape:{x:a[0],y:a[1],width:b[0]-a[0],height:b[1]-a[1]},style:{fill:color},silent:true};
};
const cloudRender=(color)=>(params,api)=>{
  const rect=(lo,hi,w,op)=>{const a=api.coord([api.value(0)-w/2,hi]),b=api.coord([api.value(0)+w/2,lo]);
    return {type:'rect',shape:{x:a[0],y:a[1],width:b[0]-a[0],height:b[1]-a[1]},style:{fill:color,opacity:op},silent:true};};
  return {type:'group',children:[rect(api.value(1),api.value(4),CLOUD_W,0.13),rect(api.value(2),api.value(3),CORE_W,0.82)]};
};
const series=[];
sensors.forEach((name,i)=>{
  const color=sensorColors[i];
  series.push({name,type:'scatter',xAxisIndex:0,yAxisIndex:0,data:topDots[name]||[],symbolSize:2.6,itemStyle:{color,opacity:1},z:4+i,silent:true,animation:false});
  if(topClouds[name]) series.push({name,type:'custom',xAxisIndex:0,yAxisIndex:0,data:topClouds[name],renderItem:cloudRender(color),encode:{x:0,y:[1,2,3,4]},itemStyle:{color},z:3+i,clip:true,silent:true,animation:false});
  if(topBands[name]) series.push({name,type:'custom',xAxisIndex:0,yAxisIndex:0,data:topBands[name],renderItem:bandRender(color),encode:{x:0,y:[1,2]},itemStyle:{color},z:3+i,clip:true,silent:true,animation:false});
  series.push({name,type:'custom',xAxisIndex:1,yAxisIndex:1,data:lowBands[name],renderItem:bandRender(color),encode:{x:0,y:[1,2]},itemStyle:{color},z:3+i,clip:true,silent:true,animation:false});
  if(lowDots[name]) series.push({name,type:'scatter',xAxisIndex:1,yAxisIndex:1,data:lowDots[name],symbolSize:2.6,itemStyle:{color,opacity:1},z:3+i,silent:true,animation:false});
});
const lineSeries=(name,color,idx,data,z)=>({name,type:'line',xAxisIndex:idx,yAxisIndex:idx,data,step:'end',symbol:'none',showSymbol:false,
  lineStyle:{color,width:2.8,join:'miter'},itemStyle:{color},z,clip:true,silent:true,animation:false});
const fillSeries=(name,color,idx,data,z)=>({name,type:'line',xAxisIndex:idx,yAxisIndex:idx,data,step:'end',symbol:'none',showSymbol:false,
  lineStyle:{width:0,opacity:0},itemStyle:{color},areaStyle:{color,opacity:0.45},z,clip:true,silent:true,animation:false});
const panels=[
 [2,hist(latStart,1,densityQL45),hist(latStart,1,densityQL3)],
 [3,hist(uncStart,0.01,uncQL45,0).concat([[1.25,0]]),hist(uncStart,0.01,uncQL3,0).concat([[1.25,0]])],
 [4,hist(sensStart,1,sensQL45),hist(sensStart,1,sensQL3)]
];
panels.forEach(([idx,blue,orange])=>{
  series.push(lineSeries('QL=4 & 5',BLUE,idx,blue,5),lineSeries('QL=3',ORANGE,idx,orange,6));
  series.push(fillSeries('QL=4 & 5',BLUE,idx,blue,3),fillSeries('QL=3',ORANGE,idx,orange,4));
});

const qlLegend=(left,top)=>({data:['QL=4 & 5','QL=3'],left,top,orient:'vertical',itemWidth:41,itemHeight:14,itemGap:10,
  padding:[8,9,8,6.5],backgroundColor:'rgba(234,234,242,0.8)',borderColor:'#cccccc',borderWidth:1.5,borderRadius:4,
  itemStyle:{opacity:0},lineStyle:{opacity:1},
  textStyle:{color:INK,fontFamily:FONT,fontSize:19.3,padding:[0,0,0,8]},selectedMode:false,z:20});
const legend=[
 {data:sensors.map(name=>({name,icon:'circle'})),left:688,top:107.5,orient:'vertical',itemWidth:6,itemHeight:6,itemGap:4.2,
  padding:[5,6,5,17],backgroundColor:'rgba(234,234,242,0.8)',borderColor:'#cccccc',borderWidth:1.5,borderRadius:4,
  textStyle:{color:INK,fontFamily:FONT,fontSize:14,padding:[0,0,0,17],lineHeight:16.5},selectedMode:false,z:20},
 qlLegend(1386.7,32.7),qlLegend(551,659),qlLegend(1386.7,658.5)
];
const ttl=(text,x,y,fs,ff,col)=>({text,left:x,top:y,textAlign:'center',padding:0,textStyle:{color:col||INK,fontFamily:ff||FONT,fontSize:fs,fontWeight:'normal'}});
const title=[
 ttl('QL=4 & 5',368,0,17),ttl('QL=3',367,257,17),
 ttl('a',60.5,0,26,'Open Sans','#000'),ttl('b',873,0,26,'Open Sans','#000'),ttl('c',60.5,617,26,'Open Sans','#000'),ttl('d',873,617,26,'Open Sans','#000')
];
const graphic=[{type:'text',rotation:Math.PI/2,x:12,y:257,silent:true,
  style:{text:'Observation density / km⁻² yr⁻¹',fill:INK,font:'21.7px "DejaVu Sans"',textAlign:'center',textVerticalAlign:'middle'}}];
const chart=echarts.init(document.getElementById('c'),null,{renderer:'canvas',width:1579,height:1184});
chart.setOption({animation:false,backgroundColor:'#fff',title,legend,grid:grids,xAxis,yAxis,series,graphic});
</script></body></html>
